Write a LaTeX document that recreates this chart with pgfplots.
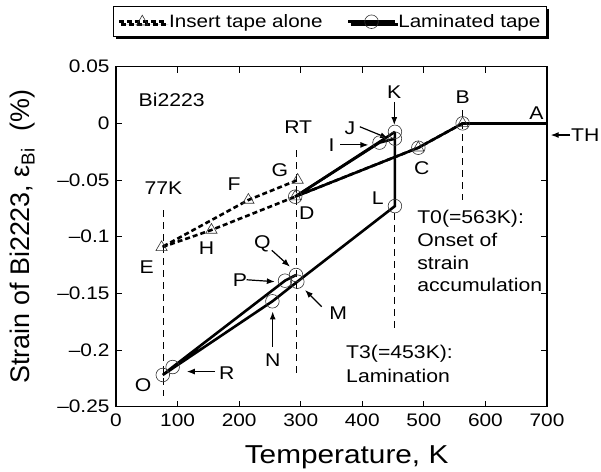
\documentclass[border=0pt]{standalone}
\usepackage{fontspec}
\setmainfont{Liberation Sans}[FakeStretch=1.15]
\newfontfamily\ylfont{Liberation Sans}
\usepackage{pgfplots}
\pgfplotsset{compat=1.18}
\usetikzlibrary{arrows.meta,shadows}
\begin{document}
\begin{tikzpicture}[x=1bp,y=1bp]
\path[use as bounding box] (0,0) rectangle (601,472);
\begin{axis}[
  at={(116bp,65.3bp)}, anchor=south west,
  width=431bp, height=340bp, scale only axis,
  xmin=0, xmax=700, ymin=-0.25, ymax=0.05,
  xtick={0,100,200,300,400,500,600,700},
  xticklabels={0,100,200,300,400,500,600,700},
  ytick={-0.25,-0.2,-0.15,-0.1,-0.05,0,0.05},
  yticklabels={–0.25,–0.2,–0.15,–0.1,–0.05,0,0.05},
  tick align=inside, major tick length=6bp,
  every tick/.style={black, line width=1bp},
  axis line style={line width=1.2bp},
  ticklabel style={font=\fontsize{18.2}{21}\selectfont},
  xticklabel style={yshift=-4bp},
  yticklabel style={xshift=-3bp},
  clip=false,
  xlabel={Temperature, K},
  xlabel style={at={(axis description cs:0.535,-0.148)}, anchor=center, font=\fontsize{26}{29}\selectfont},
  ylabel={\ylfont\fontsize{27}{30}\selectfont Strain of Bi2223, ε\textsubscript{Bi}\hspace{0.6em}(\%)},
  ylabel style={at={(axis description cs:-0.217,0.5)}, anchor=center},
  legend columns=2,
  legend image code/.code={\draw[mark repeat=2,mark phase=2,#1] plot coordinates {(0bp,0bp) (23.5bp,0bp) (47bp,0bp)};},
  legend style={at={(axis description cs:-0.007,1.1785)}, anchor=north west, draw=black, line width=1bp, fill=white,
    drop shadow={shadow xshift=2.5bp,shadow yshift=-2.5bp,fill=black,opacity=1},
    font=\fontsize{18}{21}\selectfont, inner xsep=4bp, inner ysep=6bp,
    /tikz/every even column/.append style={column sep=22bp}},
]
\addplot[black, line width=2.6bp, dash pattern=on 5bp off 3bp, mark=triangle, mark size=6.5bp,
  mark options={solid, line width=0.6bp, fill=none, draw=black!80}]
  coordinates {(563,0) (491,-0.0215) (291,-0.0647) (155,-0.0941) (74,-0.1094) (215,-0.0676) (295,-0.050)};
\addlegendentry{Insert tape alone}
\addplot[black, line width=2.6bp, mark=o, mark size=6.8bp, mark options={line width=0.6bp, draw=black!80}]
  coordinates {(563,0) (491,-0.0215) (291,-0.0647) (428,-0.017) (453,-0.0135) (453,-0.0075) (453,-0.073)
   (294.5,-0.1397) (254,-0.157) (76,-0.222) (92,-0.215) (274.5,-0.1388) (292.4,-0.1338)};
\addlegendentry{Laminated tape}
\addplot[black, line width=2.6bp, forget plot] coordinates {(563,0) (700,0)};
\addplot[black, line width=2.6bp, forget plot] coordinates {(291,-0.0647) (453,-0.0075)};
% reference dashed lines
\addplot[black, line width=1bp, dash pattern=on 7bp off 5bp, forget plot] coordinates {(77,-0.0765) (77,-0.241)};
\addplot[black, line width=1bp, dash pattern=on 7bp off 5bp, forget plot] coordinates {(293,-0.0236) (293,-0.2205)};
\addplot[black, line width=1bp, dash pattern=on 7bp off 5bp, forget plot] coordinates {(563,0.0117) (563,-0.0676)};
\addplot[black, line width=1bp, dash pattern=on 7bp off 5bp, forget plot] coordinates {(453,-0.079) (453,-0.184)};
% labels
\begin{scope}[every node/.style={font=\fontsize{18.5}{21}\selectfont, inner sep=0pt}]
\node at (axis cs:90.5,0.0205) {Bi2223};
\node at (axis cs:77,-0.0573) {77K};
\node at (axis cs:296,-0.003) {RT};
\node at (axis cs:452,0.0279) {K};
\node at (axis cs:563,0.0235) {B};
\node at (axis cs:683,0.0088) {A};
\node[anchor=west] at (axis cs:739,-0.0103) {TH};
\node at (axis cs:380,-0.0044) {J};
\node at (axis cs:350,-0.019) {I};
\node at (axis cs:496.5,-0.0397) {C};
\node at (axis cs:310,-0.0794) {D};
\node at (axis cs:425,-0.066) {L};
\node at (axis cs:266,-0.0412) {G};
\node at (axis cs:191.6,-0.0535) {F};
\node at (axis cs:147,-0.110) {H};
\node at (axis cs:50,-0.1265) {E};
\node at (axis cs:237.6,-0.106) {Q};
\node at (axis cs:201.4,-0.138) {P};
\node at (axis cs:361,-0.1676) {M};
\node at (axis cs:254.5,-0.2087) {N};
\node at (axis cs:180,-0.2205) {R};
\node at (axis cs:44,-0.2308) {O};
\node[anchor=base west] at (axis cs:489,-0.0888) {T0(=563K):};
\node[anchor=base west] at (axis cs:489,-0.1088) {Onset of};
\node[anchor=base west] at (axis cs:489,-0.1293) {strain};
\node[anchor=base west] at (axis cs:489,-0.1485) {accumulation};
\node[anchor=base west] at (axis cs:373.6,-0.2078) {T3(=453K):};
\node[anchor=base west] at (axis cs:373.6,-0.229) {Lamination};
\end{scope}
% arrows
\begin{scope}[line width=1.2bp, -{Latex[length=8bp,width=6bp]}]
\draw (axis cs:452,0.019) -- (axis cs:452,-0.0015);
\draw (axis cs:738,-0.0103) -- (axis cs:706,-0.0103);
\draw (axis cs:396,-0.003) -- (axis cs:442,-0.0132);
\draw (axis cs:364,-0.019) -- (axis cs:410,-0.019);
\draw (axis cs:253,-0.112) -- (axis cs:282.6,-0.1265);
\draw (axis cs:212,-0.138) -- (axis cs:258,-0.1397);
\draw (axis cs:334,-0.1617) -- (axis cs:307,-0.147);
\draw (axis cs:254.5,-0.197) -- (axis cs:254.5,-0.166);
\draw (axis cs:161,-0.219) -- (axis cs:115,-0.219);
\end{scope}
\end{axis}
\end{tikzpicture}
\end{document}
